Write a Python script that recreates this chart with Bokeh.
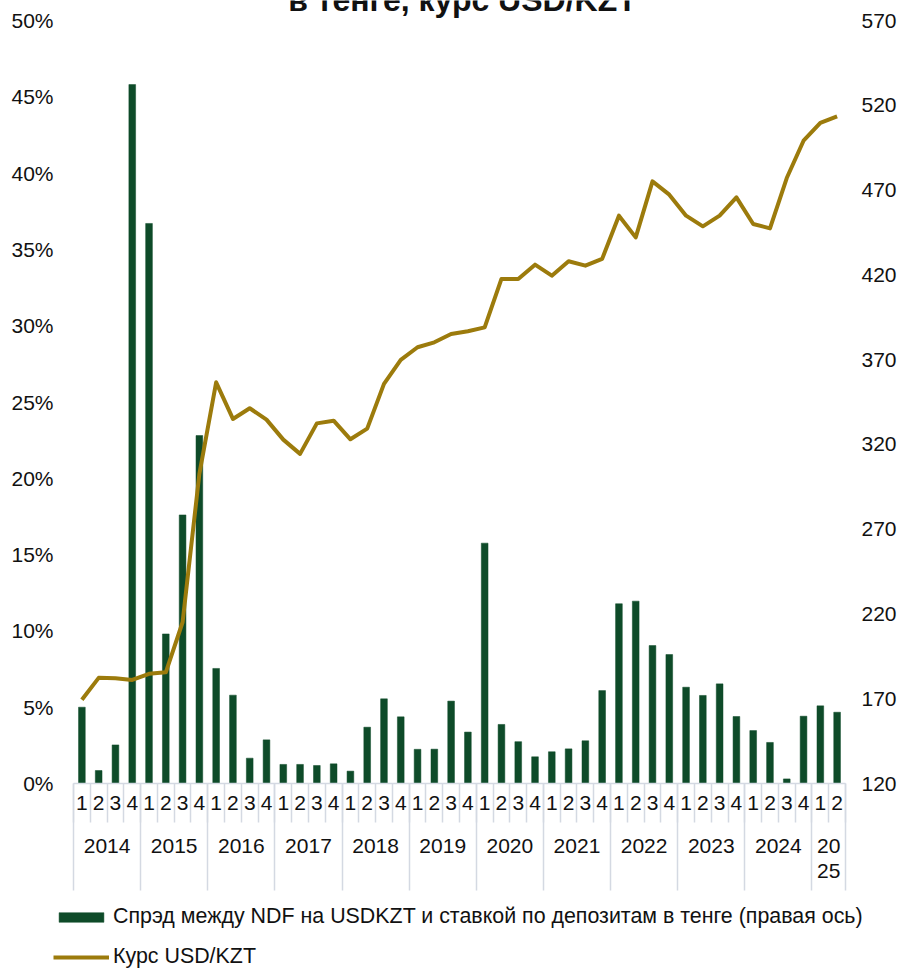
from bokeh.plotting import figure
from bokeh.models import (Range1d, LinearAxis, FixedTicker, PrintfTickFormatter,
                          Legend, LegendItem, Label, ColumnDataSource)
from bokeh.embed import file_html
from bokeh.resources import INLINE

# ---------------- data ----------------
years = ["2014", "2015", "2016", "2017", "2018", "2019", "2020", "2021", "2022", "2023", "2024", "20\n25"]
quarters_per_year = [4, 4, 4, 4, 4, 4, 4, 4, 4, 4, 4, 2]
quarter_labels = ["1", "2", "3", "4"]

# spread NDF USDKZT vs tenge deposit rate, %
spread = [5.0, 0.85, 2.53, 45.8,
          36.7, 9.8, 17.6, 22.8,
          7.54, 5.79, 1.66, 2.86,
          1.25, 1.25, 1.18, 1.29,
          0.81, 3.69, 5.55, 4.37,
          2.24, 2.25, 5.4, 3.37,
          15.75, 3.87, 2.74, 1.75,
          2.08, 2.27, 2.8, 6.09,
          11.78, 11.95, 9.04, 8.45,
          6.31, 5.77, 6.53, 4.39,
          3.47, 2.69, 0.3, 4.41,
          5.09, 4.67]

# USD/KZT exchange rate
usdkzt = [169.4, 182.3, 182.1, 181.1,
          184.7, 185.6, 215.1, 302.6,
          356.6, 335.0, 341.3, 334.6,
          322.8, 314.4, 332.4, 334.0,
          323.0, 329.3, 355.7, 369.8,
          377.3, 380.2, 385.1, 386.7,
          389.0, 417.6, 417.6, 426.0,
          419.5, 428.0, 425.4, 429.4,
          454.9, 442.1, 475.1, 467.3,
          454.9, 448.6, 454.9, 465.7,
          450.0, 447.4, 477.1, 499.1,
          509.6, 513.5]

left_ticks = [0, 5, 10, 15, 20, 25, 30, 35, 40, 45, 50]
right_ticks = [120, 170, 220, 270, 320, 370, 420, 470, 520, 570]

title_text = "в тенге, курс USD/KZT"
bar_label = "Спрэд между NDF на USDKZT и ставкой по депозитам в тенге (правая ось)"
line_label = "Курс USD/KZT"

# ---------------- derived positions (category slots) ----------------
q_names = [q for n in quarters_per_year for q in quarter_labels[:n]]
nq = len(q_names)
xs = [i + 0.5 for i in range(nq)]
bounds_q = list(range(nq + 1))
bounds_y = [0]
for n in quarters_per_year:
    bounds_y.append(bounds_y[-1] + n)
year_centers = [(a + b) / 2 for a, b in zip(bounds_y[:-1], bounds_y[1:])]

# ---------------- style / layout ----------------
FONT = "Liberation Sans"
FS = "21px"
TXT = "#111111"
GREEN = "#0e4b29"
GOLD = "#9c7b0c"
SEP = "#d4d9e2"

W, H = 900, 969
LEFT, RIGHT = 73, 845            # x pixels of the category area
TOP, ZERO, BOTTOM = 20, 783, 969  # y pixels of 50%, 0% and canvas bottom
L_MIN, L_MAX = left_ticks[0], left_ticks[-1]
R_MIN, R_MAX = right_ticks[0], right_ticks[-1]
ppx = (RIGHT - LEFT) / nq
ppu_l = (ZERO - TOP) / (L_MAX - L_MIN)
ppu_r = (ZERO - TOP) / (R_MAX - R_MIN)

x_range = Range1d(-LEFT / ppx, nq + (W - RIGHT) / ppx)
y_range = Range1d(L_MIN - (BOTTOM - ZERO) / ppu_l, L_MAX + TOP / ppu_l)

p = figure(width=W, height=H, x_range=x_range, y_range=y_range,
           output_backend="svg", toolbar_location=None,
           x_axis_location=None, y_axis_location=None,
           min_border=0, min_border_left=0, min_border_right=0,
           min_border_top=0, min_border_bottom=0, outline_line_color=None)
p.extra_y_ranges = {"right": Range1d(R_MIN - (BOTTOM - ZERO) / ppu_r, R_MAX + TOP / ppu_r)}
p.grid.grid_line_color = None
p.background_fill_color = "white"
p.border_fill_color = "white"

src = ColumnDataSource(dict(x=xs, spread=spread, rate=usdkzt))
bars = p.vbar(x="x", top="spread", width=0.4, bottom=0, source=src,
              fill_color=GREEN, line_color=GREEN, line_width=0.5)
line = p.line(x="x", y="rate", source=src, y_range_name="right",
              line_color=GOLD, line_width=4, line_join="round")

# left axis (percent)
la = LinearAxis(fixed_location=0, ticker=FixedTicker(ticks=left_ticks),
                formatter=PrintfTickFormatter(format="%d%%"),
                axis_line_color=None, major_tick_line_color=None, minor_tick_line_color=None,
                major_tick_out=0, major_tick_in=0,
                major_label_standoff=20, major_label_text_font=FONT,
                major_label_text_font_size=FS, major_label_text_color=TXT)
p.add_layout(la, "left")

# right axis (USD/KZT)
ra = LinearAxis(y_range_name="right", fixed_location=nq, ticker=FixedTicker(ticks=right_ticks),
                axis_line_color=None, major_tick_line_color=None, minor_tick_line_color=None,
                major_tick_out=0, major_tick_in=0,
                major_label_standoff=16, major_label_text_font=FONT,
                major_label_text_font_size=FS, major_label_text_color=TXT)
p.add_layout(ra, "right")

# separators: quarter boundaries (short) and year boundaries (long)
s1 = LinearAxis(fixed_location=0, bounds=(0, nq), ticker=FixedTicker(ticks=bounds_q),
                axis_line_color=SEP, axis_line_width=1.5,
                major_tick_line_color=SEP, major_tick_line_width=1.5,
                major_tick_in=0, major_tick_out=39, minor_tick_line_color=None,
                major_label_text_color=None)
p.add_layout(s1, "below")
s2 = LinearAxis(fixed_location=0, bounds=(0, nq), ticker=FixedTicker(ticks=bounds_y),
                axis_line_color=None,
                major_tick_line_color=SEP, major_tick_line_width=1.5,
                major_tick_in=0, major_tick_out=107, minor_tick_line_color=None,
                major_label_text_color=None)
p.add_layout(s2, "below")

# quarter labels
qa = LinearAxis(fixed_location=0, ticker=FixedTicker(ticks=xs),
                major_label_overrides={x: q for x, q in zip(xs, q_names)},
                axis_line_color=None, major_tick_line_color=None, minor_tick_line_color=None,
                major_label_standoff=6, major_label_text_font=FONT,
                major_label_text_font_size=FS, major_label_text_color=TXT)
p.add_layout(qa, "below")

# year labels
ya = LinearAxis(fixed_location=0, ticker=FixedTicker(ticks=year_centers),
                major_label_overrides={x: y for x, y in zip(year_centers, years)},
                axis_line_color=None, major_tick_line_color=None, minor_tick_line_color=None,
                major_label_standoff=44, major_label_text_font=FONT,
                major_label_text_font_size=FS, major_label_text_color=TXT,
                major_label_text_line_height=1.1)
p.add_layout(ya, "below")

# title, cut off at the top edge as in the source picture
title = Label(x=(462 - LEFT) / ppx, y=L_MAX + (TOP + 1) / ppu_l,
              text=title_text, text_font=FONT, text_font_style="bold", text_font_size="32px",
              text_align="center", text_baseline="middle", text_color=TXT)
p.add_layout(title)

legend = Legend(items=[LegendItem(label=bar_label, renderers=[bars]),
                       LegendItem(label=line_label, renderers=[line])],
                location=(53, 0), orientation="vertical",
                glyph_width=56, glyph_height=12, label_standoff=4, label_height=22,
                spacing=15, padding=0, margin=0, border_line_color=None,
                background_fill_alpha=0, label_text_font=FONT, label_text_font_size="21.4px",
                label_text_color=TXT)
p.add_layout(legend)

open("out.html", "w").write(file_html(p, INLINE))
